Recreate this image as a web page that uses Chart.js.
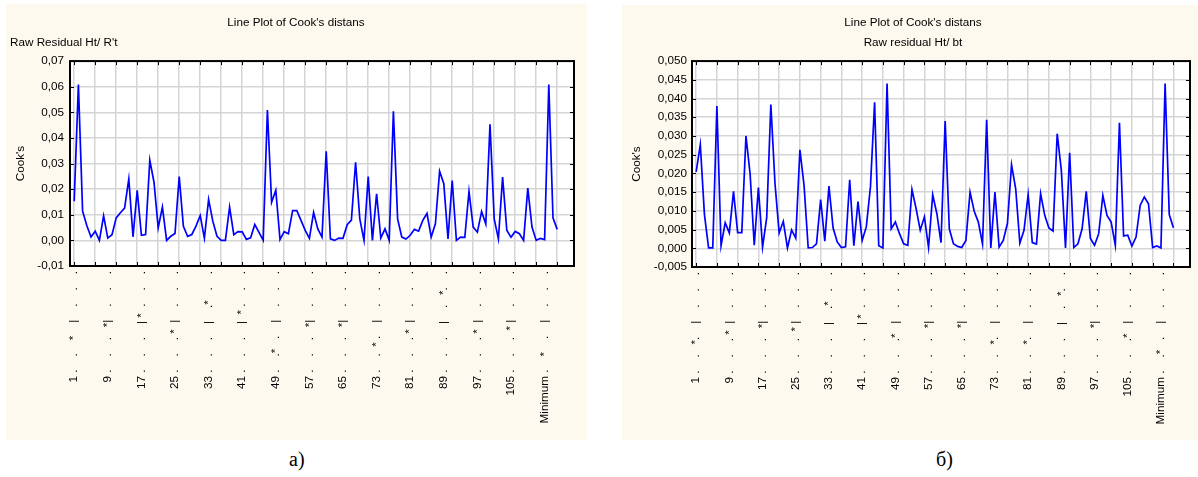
<!DOCTYPE html>
<html>
<head>
<meta charset="utf-8">
<script src="https://cdn.jsdelivr.net/npm/chart.js@4.4.0/dist/chart.umd.min.js"></script>
<style>
  html, body { margin: 0; padding: 0; background: #fff; overflow: hidden; }
  body { width: 1198px; height: 477px; position: relative; }
  .panel { position: absolute; background: #fdf9ee; }
  canvas { position: absolute; top: 0; }
  .caption { position: absolute; top: 448px; font: 20px 'Liberation Serif', 'Times New Roman', serif; color: #000; }
</style>
</head>
<body>
<div class="panel" style="left:6px;top:4px;width:581px;height:436px"></div>
<div class="panel" style="left:622px;top:5px;width:575px;height:435px"></div>
<canvas id="chart-a" width="572" height="440" style="left:10px"></canvas>
<canvas id="chart-b" width="566" height="440" style="left:630px"></canvas>
<div class="caption" style="left:289px">а)</div>
<div class="caption" style="left:936px">б)</div>
<script>
// cases 1..112 and the summary rows
const cases = Array.from({length: 112}, (_, i) => String(i + 1))
  .concat(['Minimum', 'Maximum', 'Mean', 'Median']);

// Cook's distance, a) Raw Residual Ht/ R't
const cooksA = [
  0.0153, 0.0608, 0.0114, 0.0058, 0.0013, 0.0036, 0.0000, 0.0096, 0.0009, 0.0022,
  0.0088, 0.0108, 0.0126, 0.0240, 0.0014, 0.0195, 0.0020, 0.0023, 0.0313, 0.0227,
  0.0049, 0.0130, 0.0000, 0.0016, 0.0027, 0.0249, 0.0055, 0.0016, 0.0023, 0.0056,
  0.0097, 0.0009, 0.0160, 0.0075, 0.0016, 0.0000, 0.0000, 0.0130, 0.0022, 0.0034,
  0.0033, 0.0004, 0.0010, 0.0062, 0.0031, 0.0000, 0.0509, 0.0149, 0.0196, 0.0003,
  0.0034, 0.0026, 0.0116, 0.0116, 0.0078, 0.0039, 0.0008, 0.0109, 0.0045, 0.0013,
  0.0348, 0.0006, 0.0000, 0.0009, 0.0008, 0.0061, 0.0079, 0.0305, 0.0084, 0.0000,
  0.0249, 0.0000, 0.0182, 0.0009, 0.0045, 0.0000, 0.0504, 0.0084, 0.0013, 0.0005,
  0.0020, 0.0043, 0.0036, 0.0078, 0.0105, 0.0013, 0.0065, 0.0270, 0.0221, 0.0006,
  0.0234, 0.0000, 0.0013, 0.0012, 0.0191, 0.0052, 0.0032, 0.0113, 0.0064, 0.0453,
  0.0084, 0.0006, 0.0247, 0.0040, 0.0012, 0.0035, 0.0026, 0.0000, 0.0204, 0.0052,
  0.0000, 0.0008, 0.0003, 0.0608, 0.0088, 0.0043
];

// Cook's distance, б) Raw residual Ht/ bt
const cooksB = [
  0.0204, 0.0277, 0.0090, 0.0001, 0.0001, 0.0380, 0.0007, 0.0068, 0.0041, 0.0152,
  0.0042, 0.0042, 0.0300, 0.0199, 0.0008, 0.0162, 0.0003, 0.0082, 0.0384, 0.0173,
  0.0041, 0.0072, 0.0001, 0.0049, 0.0027, 0.0263, 0.0168, 0.0001, 0.0002, 0.0012,
  0.0130, 0.0019, 0.0166, 0.0054, 0.0017, 0.0002, 0.0004, 0.0183, 0.0007, 0.0125,
  0.0021, 0.0057, 0.0164, 0.0390, 0.0007, 0.0001, 0.0440, 0.0052, 0.0070, 0.0039,
  0.0012, 0.0008, 0.0157, 0.0106, 0.0048, 0.0084, 0.0002, 0.0143, 0.0093, 0.0015,
  0.0340, 0.0052, 0.0012, 0.0005, 0.0002, 0.0021, 0.0150, 0.0099, 0.0070, 0.0012,
  0.0343, 0.0001, 0.0150, 0.0003, 0.0021, 0.0066, 0.0223, 0.0159, 0.0014, 0.0048,
  0.0143, 0.0015, 0.0011, 0.0146, 0.0088, 0.0054, 0.0046, 0.0306, 0.0208, 0.0001,
  0.0255, 0.0002, 0.0012, 0.0052, 0.0152, 0.0026, 0.0008, 0.0039, 0.0141, 0.0088,
  0.0070, 0.0008, 0.0335, 0.0033, 0.0035, 0.0006, 0.0030, 0.0115, 0.0137, 0.0119,
  0.0002, 0.0006, 0.0001, 0.0440, 0.0090, 0.0055
];

// standardized residual ('*') of every 8th case: 1, 9, 17 ... 105, Minimum
const residA = [-1.0, -0.2, 0.4, -0.6, 1.2, 0.6, -1.8, -0.2, -0.2, -1.4, -0.6, 1.8, -0.6, -0.4, -2.0];
const residB = [-1.2, -0.6, -0.2, -0.4, 1.2, 0.4, -0.8, -0.2, -0.2, -1.2, -1.2, 1.8, -0.2, -0.8, -1.8];

const yRangeA = [-0.01, 0.07];
const yRangeB = [-0.005, 0.05];

Chart.defaults.font.family = "'Liberation Sans', Arial, sans-serif";
Chart.defaults.font.size = 11.7;
Chart.defaults.color = '#000';

const gridGray = '#d5d5d5';

// text row "-3 . . . | . . . +3" with a star at the residual
function residualLabel(name, r) {
  const row = ' '.repeat(31).split('');
  [0, 5, 10, 20, 25, 30].forEach(p => { row[p] = '.'; });
  row[15] = '|';
  row[Math.round(15 + 5 * r)] = '*';
  return name + ' ' + row.join('');
}

// white plot area, black frame and inward ticks
const plotFrame = {
  id: 'plotFrame',
  beforeDraw(chart) {
    const {ctx, chartArea: a} = chart;
    ctx.save();
    ctx.fillStyle = '#fff';
    ctx.fillRect(a.left, a.top, a.right - a.left, a.bottom - a.top);
    ctx.restore();
  },
  afterDatasetsDraw(chart) {
    const {ctx, chartArea: a, scales: {x, y}} = chart;
    ctx.save();
    ctx.strokeStyle = '#000';
    ctx.lineWidth = 2;
    ctx.strokeRect(a.left, a.top, a.right - a.left, a.bottom - a.top);
    ctx.lineWidth = 1;
    ctx.beginPath();
    x.ticks.forEach(t => {
      if ((t.value - 1) % 5 !== 0) return;
      const px = Math.round(x.getPixelForValue(t.value)) + 0.5;
      ctx.moveTo(px, a.bottom); ctx.lineTo(px, a.bottom - 4);
      ctx.moveTo(px, a.top); ctx.lineTo(px, a.top + 4);
    });
    y.ticks.forEach(t => {
      const py = Math.round(y.getPixelForValue(t.value)) + 0.5;
      ctx.moveTo(a.left, py); ctx.lineTo(a.left + 4, py);
      ctx.moveTo(a.right, py); ctx.lineTo(a.right - 4, py);
    });
    ctx.stroke();
    ctx.restore();
  }
};

function cooksChart(id, values, resid, subtitle, subAlign, yRange, yStep, decimals, box) {
  const labels = cases.map((c, i) => i % 8 === 0 ? residualLabel(c, resid[i / 8]) : '');
  return new Chart(document.getElementById(id), {
    type: 'line',
    data: {
      datasets: [{
        data: values.map((v, i) => ({x: i + 1, y: v})),
        borderColor: '#0000ff',
        borderWidth: 1.7,
        pointRadius: 0,
        tension: 0,
        yAxisID: 'y'
      }]
    },
    options: {
      responsive: false,
      animation: false,
      devicePixelRatio: 1,
      layout: {padding: 0},
      plugins: {
        legend: {display: false},
        tooltip: {enabled: false},
        title: {
          display: true,
          text: "Line Plot of Cook's distans",
          font: {size: 11.7, weight: 'normal'},
          padding: {top: 16, bottom: 6}
        },
        subtitle: {
          display: true,
          text: subtitle,
          align: subAlign,
          font: {size: 11.7, weight: 'normal'},
          padding: {top: 0, bottom: 11}
        }
      },
      scales: {
        x: {
          type: 'linear',
          min: 0,
          max: 120,
          afterBuildTicks: s => { s.ticks = cases.map((c, i) => ({value: i + 1})); },
          afterFit: s => { s.height = box.xHeight; },
          grid: {
            color: c => (c.tick && (c.tick.value - 1) % 5 === 0) ? gridGray : 'rgba(0,0,0,0)',
            lineWidth: 1.5,
            drawTicks: false
          },
          border: {display: false},
          ticks: {
            autoSkip: false,
            minRotation: 90,
            maxRotation: 90,
            padding: 5,
            callback: v => labels[v - 1] || ''
          }
        },
        y: {
          min: yRange[0],
          max: yRange[1],
          afterFit: s => { s.width = box.yWidth; },
          title: {display: true, text: "Cook's", padding: {top: box.yTitlePad, bottom: 0}},
          grid: {color: gridGray, lineWidth: 1.5, drawTicks: false},
          border: {display: false},
          ticks: {
            stepSize: yStep,
            padding: box.yTickPad,
            callback: v => (Math.abs(v) < 1e-9 ? 0 : v).toFixed(decimals).replace('.', ',')
          }
        },
        y2: {
          position: 'right',
          display: true,
          afterFit: s => { s.width = box.rightWidth; },
          grid: {display: false, drawTicks: false},
          border: {display: false},
          ticks: {display: false}
        }
      }
    },
    plugins: [plotFrame]
  });
}

cooksChart('chart-a', cooksA, residA, "Raw Residual Ht/ R't", 'start', yRangeA, 0.01, 2,
  {xHeight: 174, yWidth: 60, yTitlePad: 4, yTickPad: 6, rightWidth: 8});
cooksChart('chart-b', cooksB, residB, 'Raw residual Ht/ bt', 'center', yRangeB, 0.005, 3,
  {xHeight: 173, yWidth: 62, yTitlePad: 0, yTickPad: 5, rightWidth: 6});
</script>
</body>
</html>
